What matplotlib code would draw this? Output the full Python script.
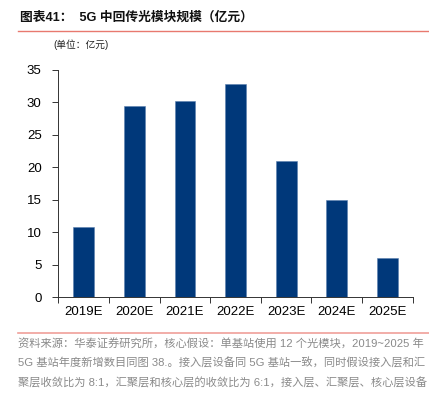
import matplotlib
matplotlib.use('Agg')
import matplotlib.pyplot as plt
import numpy as np

# data
years = ['2019E', '2020E', '2021E', '2022E', '2023E', '2024E', '2025E']
values = [10.8, 29.4, 30.3, 32.8, 21.0, 15.0, 6.0]
yticks = [0, 5, 10, 15, 20, 25, 30, 35]

title = '图表41：  5G 中回传光模块规模（亿元）'
unit = '(单位：亿元)'
notes = ['资料来源：华泰证券研究所，核心假设：单基站使用 12 个光模块，2019~2025 年',
         '5G 基站年度新增数目同图 38.。接入层设备同 5G 基站一致，同时假设接入层和汇',
         '聚层收敛比为 8:1，汇聚层和核心层的收敛比为 6:1，接入层、汇聚层、核心层设备']

plt.rcParams['font.family'] = ['Liberation Sans', 'Noto Sans CJK SC']

fig = plt.figure(figsize=(4.29, 3.95), dpi=100)
ax = fig.add_axes([0.136, 0.2473, 0.826, 0.5755])

x = np.arange(len(years))
ax.bar(x, values, width=0.41, color='#00387A', edgecolor='#5A7FAF', linewidth=0.4)

ax.set_xlim(-0.5, len(years) - 0.5)
ax.set_ylim(0, 35)
ax.set_yticks(yticks)
ax.set_xticks(x)
ax.set_xticklabels(years, fontsize=9.5)
ax.set_xticks(np.arange(len(years) + 1) - 0.5, minor=True)
ax.tick_params(axis='x', which='major', length=0, pad=6)
ax.tick_params(axis='x', which='minor', length=4, width=0.7, color='#333333')
ax.tick_params(axis='y', labelsize=9.5, length=4, width=0.7, color='#333333', pad=8)
for s in ['top', 'right']:
    ax.spines[s].set_visible(False)
for s in ['left', 'bottom']:
    ax.spines[s].set_linewidth(0.7)
    ax.spines[s].set_color('#333333')

# header
fig.text(0.047, 0.955, title, fontsize=9.2, fontweight='bold', va='center', color='#111111')
fig.add_artist(plt.Line2D([0.042, 1.0], [0.921, 0.921], color='#E8796F', linewidth=1.0))
fig.text(0.124, 0.888, unit, fontsize=7, va='center', color='#222222')

# footer
fig.add_artist(plt.Line2D([0.042, 1.0], [0.157, 0.157], color='#F0A09A', linewidth=1.2))
note_y = [0.128, 0.080, 0.030]
for yy, line in zip(note_y, notes):
    fig.text(0.042, yy, line, fontsize=8.1, va='center', color='#8A8A8A')

fig.savefig('out.png', dpi=100)
